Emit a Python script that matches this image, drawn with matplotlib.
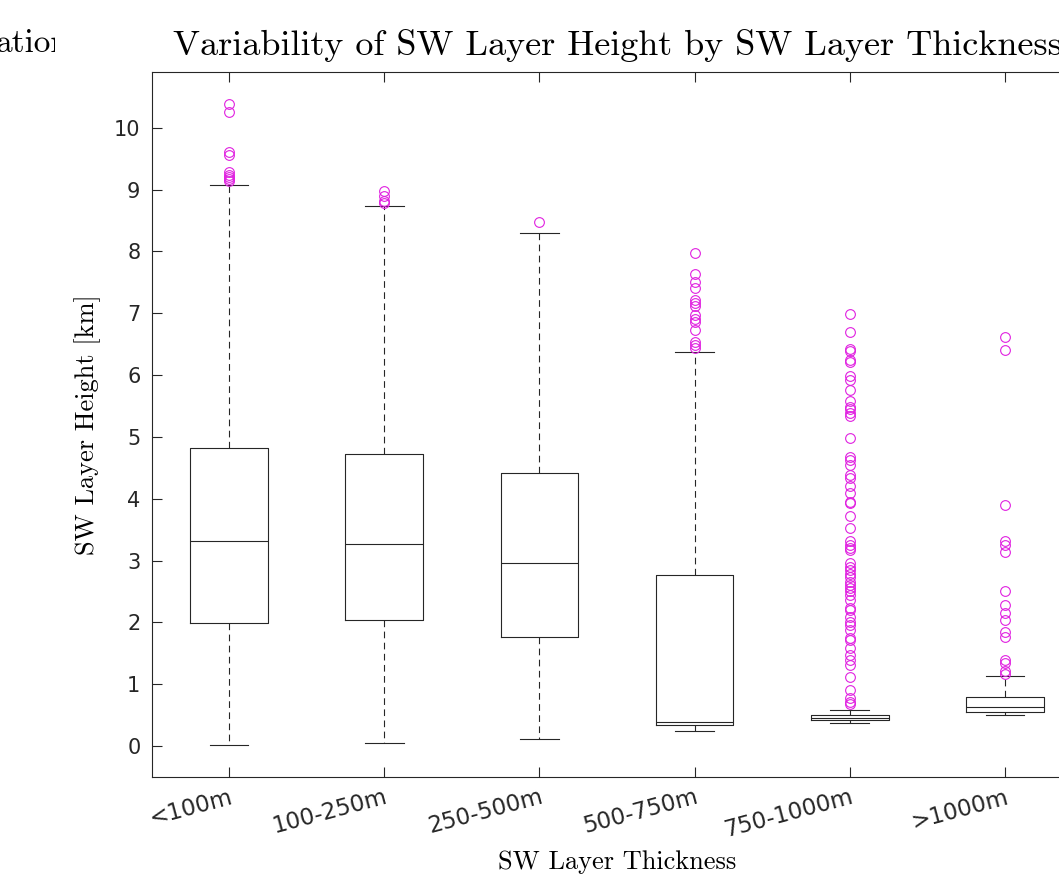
import matplotlib
matplotlib.use("Agg")
import matplotlib.pyplot as plt
from matplotlib.transforms import Bbox, TransformedBbox

categories = ['<100m', '100-250m', '250-500m', '500-750m', '750-1000m', '>1000m']

# box statistics (km)
q1 = [1.99, 2.04, 1.76, 0.34, 0.415, 0.555]
med = [3.32, 3.27, 2.96, 0.39, 0.45, 0.63]
q3 = [4.82, 4.72, 4.42, 2.76, 0.50, 0.79]
whislo = [0.01, 0.05, 0.12, 0.25, 0.38, 0.50]
whishi = [9.07, 8.74, 8.30, 6.38, 0.59, 1.14]

fliers = [
    [10.38, 10.26, 9.60, 9.55, 9.29, 9.24, 9.20, 9.17, 9.13],
    [8.97, 8.89, 8.82, 8.78],
    [8.48],
    [7.97, 7.64, 7.51, 7.41, 7.22, 7.16, 7.12, 6.97, 6.90, 6.86, 6.73,
     6.54, 6.49, 6.44],
    [6.98, 6.70, 6.42, 6.39, 6.25, 6.21, 5.98, 5.92, 5.76, 5.58, 5.49,
     5.45, 5.38, 5.33, 4.98, 4.68, 4.63, 4.55, 4.39, 4.33, 4.20, 4.09,
     3.95, 3.93, 3.72, 3.53, 3.31, 3.25, 3.20, 3.17, 2.96, 2.90, 2.85,
     2.79, 2.74, 2.66, 2.61, 2.55, 2.50, 2.44, 2.36, 2.23, 2.20, 2.09,
     2.01, 1.96, 1.88, 1.74, 1.72, 1.58, 1.47, 1.39, 1.31, 1.11, 0.91,
     0.77, 0.72, 0.68],
    [6.61, 6.40, 3.90, 3.31, 3.25, 3.14, 2.50, 2.28, 2.16, 2.04, 1.85,
     1.77, 1.39, 1.35, 1.22, 1.17],
]

yticks = list(range(0, 11))

W, H = 1059, 874
fig = plt.figure(figsize=(W / 100, H / 100), dpi=100)
ax = fig.add_axes([151.5 / W, (H - 777) / H, 931 / W, 705 / H])

stats = []
for i in range(len(categories)):
    stats.append(dict(med=med[i], q1=q1[i], q3=q3[i],
                      whislo=whislo[i], whishi=whishi[i],
                      fliers=fliers[i], label=categories[i]))

edge = '#262626'
ax.bxp(stats, positions=range(1, 7), widths=0.5, showfliers=True,
       boxprops=dict(color=edge, linewidth=0.8),
       medianprops=dict(color=edge, linewidth=0.8),
       whiskerprops=dict(color=edge, linewidth=0.8, linestyle=(0, (6, 4))),
       capprops=dict(color=edge, linewidth=0.8),
       capwidths=0.25,
       flierprops=dict(marker='o', markerfacecolor='none',
                       markeredgecolor='#e020e0', markersize=7,
                       markeredgewidth=0.8, linestyle='none'))

ax.set_xlim(0.5, 6.5)
ax.set_ylim(-0.5, 10.9)
ax.set_yticks(yticks)
ax.set_xticks(range(1, 7))
ax.set_xticklabels(categories, rotation=15, ha='right',
                   rotation_mode='anchor')
ax.tick_params(direction='in', length=7, width=0.8, colors=edge,
               labelsize=15, top=True, right=True, pad=8)
ax.tick_params(axis='x', pad=6, labelsize=16.5)
for s in ax.spines.values():
    s.set_color(edge)
    s.set_linewidth(0.8)

serif = dict(family='cmr10', color='black')
ax.set_title('Variability of SW Layer Height by SW Layer Thickness',
             fontsize=26, pad=12, **serif)
ax.set_ylabel('SW Layer Height [km]', fontsize=19, labelpad=9, **serif)
ax.set_xlabel('SW Layer Thickness', fontsize=19, labelpad=6, **serif)

# fragment of a neighbouring panel's title, cut at the edge
frag = fig.text(-4 / W, 1 - 43 / H, 'ation', fontsize=24, va='center',
                ha='left', **serif)
frag.set_clip_box(TransformedBbox(Bbox([[0, 0], [55 / W, 1]]),
                                  fig.transFigure))
frag.set_clip_on(True)

fig.savefig('out.png', dpi=100)
